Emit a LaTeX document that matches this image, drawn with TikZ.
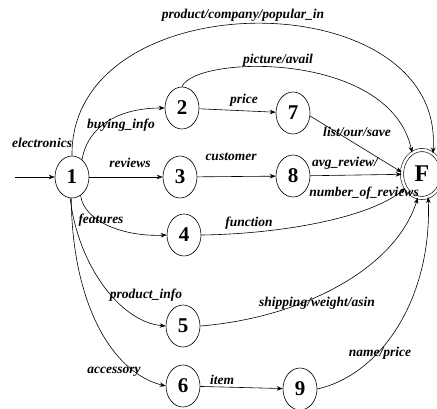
\documentclass[tikz,border=0pt]{standalone}
\usepackage{fontspec}
\setmainfont{Liberation Serif}
\usetikzlibrary{shapes.geometric,arrows.meta}
\begin{document}
\begin{tikzpicture}[x=1pt,y=-1pt,
  st/.style={ellipse,draw,line width=0.6pt,minimum width=34pt,minimum height=42pt,inner sep=0pt,font=\fontsize{21}{21}\selectfont\bfseries},
  fin/.style={ellipse,draw,line width=0.6pt,double,double distance=2.5pt,minimum width=40pt,minimum height=48pt,inner sep=0pt,font=\fontsize{24}{24}\selectfont\bfseries},
  lb/.style={font=\fontsize{13.5}{14}\selectfont\bfseries\itshape,inner sep=0pt},
  ed/.style={line width=0.6pt,-{Stealth[length=6pt,width=4.5pt]}}]
\fill[white] (0,0) rectangle (437,408);
\useasboundingbox (0,0) rectangle (437,408);
% nodes
\node[st] (n1) at (72,177) {1};
\node[st] (n2) at (182,108) {2};
\node[st] (n3) at (180,177) {3};
\node[st] (n4) at (184,235) {4};
\node[st] (n5) at (183,326) {5};
\node[st] (n6) at (183,386) {6};
\node[st] (n7) at (293,113) {7};
\node[st] (n8) at (293,176) {8};
\node[st] (n9) at (300,389) {9};
\node[fin] (F) at (422,174) {F};
\coordinate (s) at (15,177);
% edges
\draw[ed] (s) -- (n1);
\draw[ed] (n1.north) .. controls (70,-20) and (445,-20) .. (F.62);
\draw[ed] (n2.north) .. controls (195,55) and (390,50) .. (F.115);
\draw[ed] (n1.60) .. controls (88,125) and (120,108) .. (n2.west);
\draw[ed] (n2) -- (n7);
\draw[ed] (n7.-10) -- (F.175);
\draw[ed] (n1) -- (n3);
\draw[ed] (n3) -- (n8);
\draw[ed] (n8) -- (F);
\draw[ed] (n1.-65) .. controls (84,222) and (125,237) .. (n4.west);
\draw[ed] (n1.-95) .. controls (78,265) and (120,322) .. (n5.west);
\draw[ed] (n1.-92) .. controls (72,300) and (110,372) .. (n6.west);
\draw[ed] (n4.east) .. controls (280,234) and (370,218) .. (F.-140);
\draw[ed] (n5.east) .. controls (300,318) and (395,270) .. (F.-100);
\draw[ed] (n6) -- (n9);
\draw[ed] (n9.east) .. controls (380,375) and (432,300) .. (F.-75);
% labels
\node[lb] (l1) at (243,15) {product/company/popular\_in};
\node[lb] (l2) at (278,60) {picture/avail};
\node[lb] (l3) at (121,125) {buying\_info};
\node[lb] (l4) at (244,100) {price};
\node[lb] (l5) at (42,143) {electronics};
\node[lb] (l6) at (130,163) {reviews};
\node[lb] (l7) at (231,157) {customer};
\node[lb] (l8) at (357,132) {list/our/save};
\node[lb] (l9) at (345,163) {avg\_review/};
\node[lb] (l10) at (364,193) {number\_of\_reviews};
\node[lb] (l11) at (101,220) {features};
\node[lb] (l12) at (249,223) {function};
\node[lb] (l13) at (146,295) {product\_info};
\node[lb] (l14) at (317,303) {shipping/weight/asin};
\node[lb] (l15) at (114,372) {accessory};
\node[lb] (l16) at (222,380) {item};
\node[lb] (l17) at (380,353) {name/price};
\end{tikzpicture}
\end{document}
